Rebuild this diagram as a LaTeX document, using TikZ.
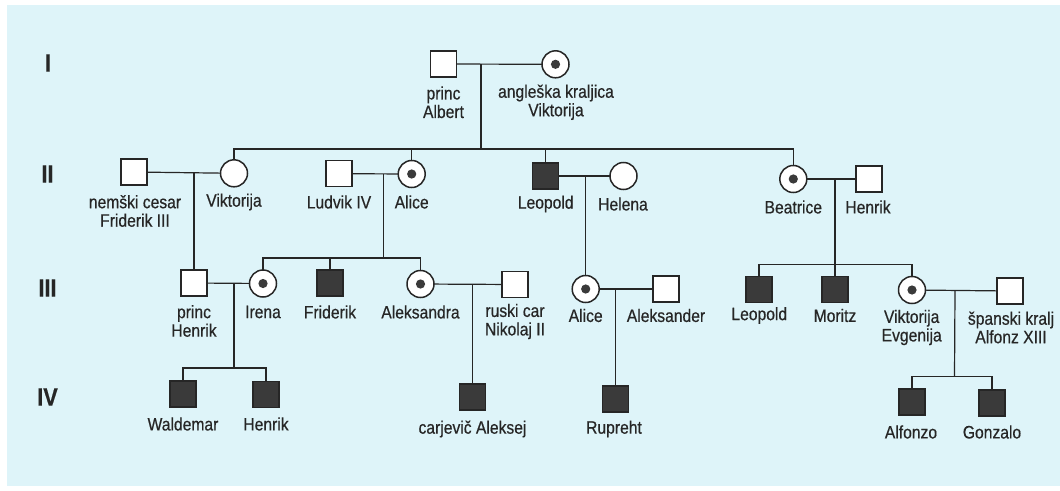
\documentclass[tikz,border=0pt]{standalone}
\usepackage{fontspec}
\setmainfont{Liberation Sans}[FakeStretch=0.87,FakeBold=0.5]
\definecolor{bgcyan}{RGB}{222,244,249}
\definecolor{dark}{RGB}{58,58,58}
\begin{document}
\begin{tikzpicture}[x=1pt,y=-1pt,
  sym/.style={draw=black!85,line width=1.5pt,inner sep=0pt,outer sep=0pt},
  male/.style={sym,rectangle,minimum size=26pt,fill=white},
  affm/.style={sym,rectangle,minimum size=26pt,fill=dark},
  female/.style={sym,circle,minimum size=27pt,fill=white},
  carrier/.style={female,path picture={\fill[dark] (path picture bounding box.center) circle (4.6pt);}},
  lbl/.style={font=\fontsize{18}{18.5}\selectfont,align=center,inner sep=0pt,text=black!85},
  genlbl/.style={font=\fontsize{25}{25}\selectfont\bfseries,inner sep=0pt,text=black!85},
  link/.style={line width=1.2pt,draw=black!85}]
\useasboundingbox (0,0) rectangle (1060,490);
\fill[white] (0,0) rectangle (1060,490);
\fill[bgcyan] (7,5) rectangle (1060,486);

% generation labels
\node[genlbl] (g1) at (48,63) {I};
\node[genlbl] (g2) at (47.5,174) {II};
\node[genlbl] (g3) at (47.5,288) {III};
\node[genlbl] (g4) at (47.5,397) {IV};

% generation I
\node[male] (albert) at (443.5,64) {};
\node[carrier] (queen) at (555.5,64.3) {};
\node[lbl] (l-albert) at (443.5,102.3) {princ\\Albert};
\node[lbl] (l-queen) at (556,102.3) {angleška kraljica\\Viktorija};
\coordinate (m1) at (481,64.3);
\coordinate (s1) at (481,149);

% generation II
\node[male] (fried) at (134,172) {};
\node[female] (vikt) at (234,173.3) {};
\node[male] (ludvik) at (339,173.7) {};
\node[carrier] (alice) at (411.7,174) {};
\node[affm] (leopold) at (545.7,176) {};
\node[female] (helena) at (623.5,176) {};
\node[carrier] (beatrice) at (793.3,179) {};
\node[male] (henrik2) at (869,179) {};
\node[lbl] (l-fried) at (135,211) {nemški cesar\\Friderik III};
\node[lbl] (l-vikt) at (234,202) {Viktorija};
\node[lbl] (l-ludvik) at (339,202) {Ludvik IV};
\node[lbl] (l-alice) at (411.7,202) {Alice};
\node[lbl] (l-leopold) at (545.7,204) {Leopold};
\node[lbl] (l-helena) at (623,204) {Helena};
\node[lbl] (l-beatrice) at (793.3,207) {Beatrice};
\node[lbl] (l-henrik2) at (868,207) {Henrik};
\coordinate (m2a) at (194,173);
\coordinate (m2b) at (383.3,174);
\coordinate (m2c) at (585.7,176.5);
\coordinate (m2d) at (835,179);

% generation III
\node[male] (henrikP) at (194,283) {};
\node[carrier] (irena) at (263,283.5) {};
\node[affm] (friderik) at (330,283) {};
\node[carrier] (aleksandra) at (420.5,284) {};
\node[male] (nikolaj) at (515,284.5) {};
\node[carrier] (alice3) at (585.7,289) {};
\node[male] (aleksander) at (666,289) {};
\node[affm] (leopold3) at (759,289.5) {};
\node[affm] (moritz) at (835,289.5) {};
\node[carrier] (viktE) at (912,290) {};
\node[male] (alfonz) at (1010,291) {};
\node[lbl] (l-henrikP) at (194,321) {princ\\Henrik};
\node[lbl] (l-irena) at (263,312) {Irena};
\node[lbl] (l-friderik) at (330,312) {Friderik};
\node[lbl] (l-aleksandra) at (420.5,312) {Aleksandra};
\node[lbl] (l-nikolaj) at (515,321.5) {ruski car\\Nikolaj II};
\node[lbl] (l-alice3) at (585.7,315.5) {Alice};
\node[lbl] (l-aleksander) at (666,315.5) {Aleksander};
\node[lbl] (l-leopold3) at (759.3,315.5) {Leopold};
\node[lbl] (l-moritz) at (835,315.5) {Moritz};
\node[lbl] (l-viktE) at (911.7,327.5) {Viktorija\\Evgenija};
\node[lbl] (l-alfonz) at (1011,327.5) {španski kralj\\Alfonz XIII};
\coordinate (s3a) at (383.3,258);
\coordinate (s3b) at (835,264.5);
\coordinate (m3a) at (234,283.5);
\coordinate (m3b) at (472.5,285);
\coordinate (m3c) at (615.5,289);
\coordinate (m3d) at (955,291);

% generation IV
\node[affm] (waldemar) at (183,394) {};
\node[affm] (henrik4) at (266,394.5) {};
\node[affm] (aleksej) at (472.5,397) {};
\node[affm] (rupreht) at (615.5,399) {};
\node[affm] (alfonzo) at (912,402) {};
\node[affm] (gonzalo) at (992,403) {};
\node[lbl] (l-waldemar) at (183,424) {Waldemar};
\node[lbl] (l-henrik4) at (266,424) {Henrik};
\node[lbl] (l-aleksej) at (472.5,429) {carjevič Aleksej};
\node[lbl] (l-rupreht) at (614,429) {Rupreht};
\node[lbl] (l-alfonzo) at (911,432) {Alfonzo};
\node[lbl] (l-gonzalo) at (992,432) {Gonzalo};
\coordinate (s4a) at (234,368);
\coordinate (s4b) at (954.5,376.7);

% connectors
\begin{scope}[link]
% gen I
\draw (albert) -- (queen);
\draw (m1) -- (s1);
\draw (vikt.north) |- (s1) -| (beatrice.north);
\draw (alice.north) -- (alice.north |- s1);
\draw (leopold.north) -- (leopold.north |- s1);
% gen II
\draw (fried) -- (vikt);
\draw (m2a) -- (henrikP.north);
\draw (ludvik) -- (alice);
\draw (m2b) -- (s3a);
\draw (irena.north) |- (s3a) -| (aleksandra.north);
\draw (friderik.north) -- (friderik.north |- s3a);
\draw (leopold) -- (helena);
\draw (m2c) -- (alice3.north);
\draw (beatrice) -- (henrik2);
\draw (m2d) -- (s3b);
\draw (leopold3.north) |- (s3b) -| (viktE.north);
\draw (moritz.north) -- (s3b);
% gen III
\draw (henrikP) -- (irena);
\draw (m3a) -- (s4a);
\draw (waldemar.north) |- (s4a) -| (henrik4.north);
\draw (aleksandra) -- (nikolaj);
\draw (m3b) -- (aleksej.north);
\draw (alice3) -- (aleksander);
\draw (m3c) -- (rupreht.north);
\draw (viktE) -- (alfonz);
\draw (m3d) -- (s4b);
\draw (alfonzo.north) |- (s4b) -| (gonzalo.north);
\end{scope}
\end{tikzpicture}
\end{document}
